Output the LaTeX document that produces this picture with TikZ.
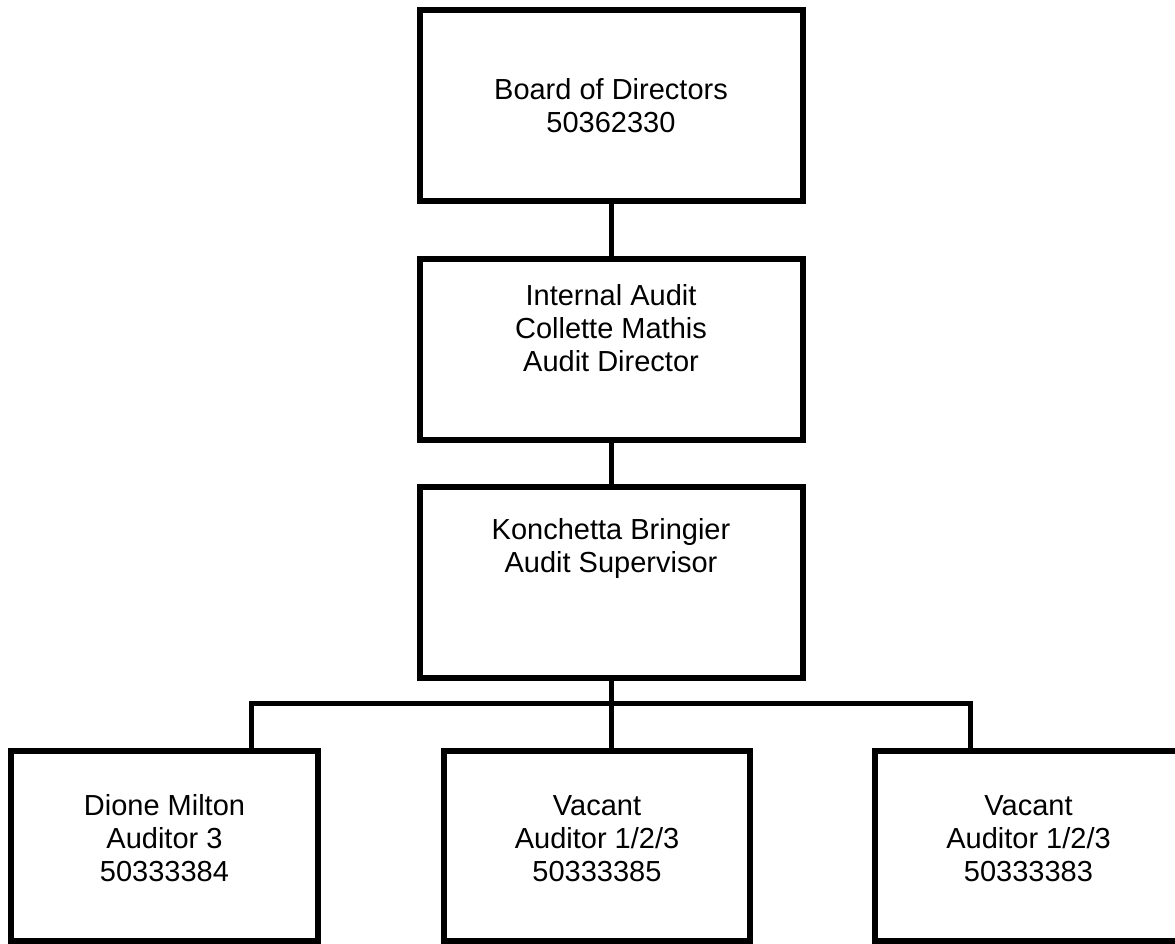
\documentclass[tikz,border=0pt]{standalone}
\usepackage{fontspec}
\setmainfont{Liberation Sans}
\newcommand\firstlinestrut{\rule{0pt}{22pt}}
\begin{document}
\begin{tikzpicture}[x=1pt,y=-1pt,
  box/.style={draw=black, fill=white, line width=6pt, rectangle, inner sep=0pt, line join=miter},
  wide/.style={minimum width=383pt},
  narrow/.style={minimum width=307pt},
  txt/.style={anchor=north, inner sep=0pt, align=center, text=black,
    font=\fontsize{29}{33}\selectfont},
  conn/.style={draw=black, line width=5pt, line join=miter}]
\useasboundingbox (0,0) rectangle (1175,944);
\clip (0,0) rectangle (1175,944);

% boxes
\node[box, wide, minimum height=190.5pt] (board) at (611,105.75) {};
\node[box, wide, minimum height=181pt] (ia) at (611,349.5) {};
\node[box, wide, minimum height=191pt] (ks) at (611,582.5) {};
\node[box, narrow, minimum height=190pt] (dm) at (164.5,846) {};
\node[box, minimum width=306pt, minimum height=190pt] (v1) at (597,846) {};
\node[box, narrow, minimum height=190pt] (v2) at (1028.5,846) {};

% texts
\node[txt] (tboard) at (611,77) {\firstlinestrut Board of Directors\\50362330};
\node[txt] (tia) at (611,283.7) {\firstlinestrut Internal Audit\\Collette Mathis\\Audit Director};
\node[txt] (tks) at (611,517) {\firstlinestrut Konchetta Bringier\\Audit Supervisor};
\node[txt] (tdm) at (164.5,793) {\firstlinestrut Dione Milton\\Auditor 3\\50333384};
\node[txt] (tv1) at (597,793) {\firstlinestrut Vacant\\Auditor 1/2/3\\50333385};
\node[txt] (tv2) at (1028.5,793) {\firstlinestrut Vacant\\Auditor 1/2/3\\50333383};

% connectors
\coordinate (busL) at (251.5,703);
\coordinate (busR) at (970.5,703);
\coordinate (busM) at (611,703);
\draw[conn] (board.south) -- (ia.north);
\draw[conn] (ia.south) -- (ks.north);
\draw[conn] (ks.south) -- (busM);
\draw[conn] (busL |- dm.north) -- (busL) -- (busR) -- (busR |- v2.north);
\draw[conn] (busM) -- (busM |- v1.north);
\end{tikzpicture}
\end{document}
